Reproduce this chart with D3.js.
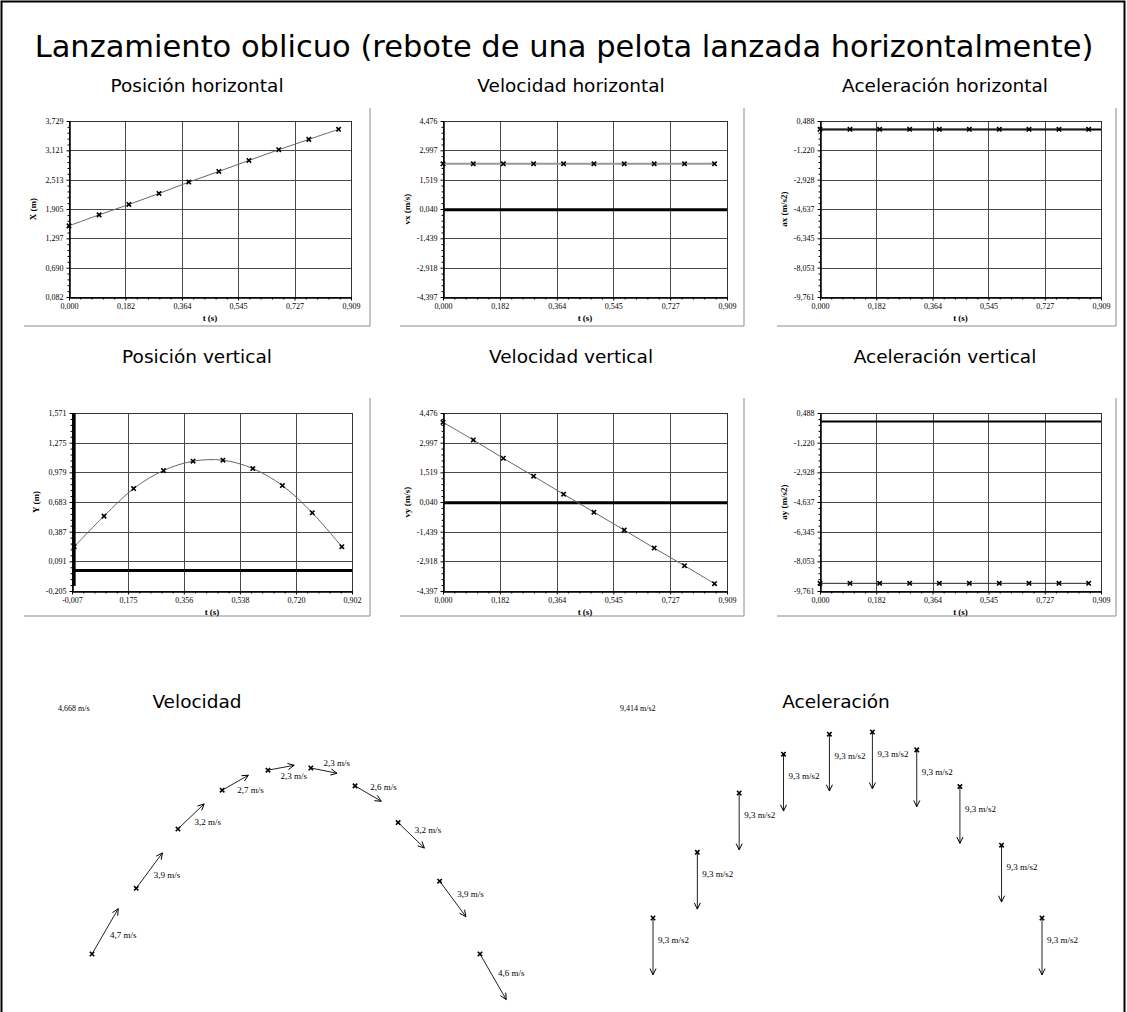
<!DOCTYPE html>
<html>
<head>
<meta charset="utf-8">
<script src="https://cdn.jsdelivr.net/npm/d3@7"></script>
<style>
  body { margin: 0; background: #fff; }
  .ttl { font-family: "DejaVu Sans"; fill: #000; text-anchor: middle; }
  .sm { font-family: "Liberation Serif"; font-size: 8px; fill: #000; }
  .lbl { font-family: "Liberation Serif"; font-size: 9px; font-weight: bold; fill: #000; }
</style>
</head>
<body>
<div id="application"></div>
<script>
// sample times (s)
var times = [0.000, 0.097, 0.193, 0.290, 0.386, 0.483, 0.580, 0.676, 0.773, 0.869];
// measured series
var posX = [1.556, 1.784, 1.999, 2.227, 2.463, 2.684, 2.912, 3.134, 3.348, 3.556];
var posY = [0.237, 0.542, 0.817, 0.997, 1.090, 1.100, 1.017, 0.847, 0.575, 0.237];
var velX = [2.32, 2.32, 2.32, 2.32, 2.32, 2.32, 2.32, 2.32, 2.32, 2.32];
var velY = [4.012, 3.132, 2.220, 1.325, 0.429, -0.466, -1.362, -2.258, -3.137, -4.032];
var accX = [0.002, 0.002, 0.002, 0.002, 0.002, 0.002, 0.002, 0.002, 0.002, 0.002];
var accY = [-9.32, -9.32, -9.32, -9.32, -9.32, -9.32, -9.32, -9.32, -9.32, -9.32];
// labels printed next to the vectors
var speedLabels = [4.7, 3.9, 3.2, 2.7, 2.3, 2.3, 2.6, 3.2, 3.9, 4.6];
var accLabels = [9.3, 9.3, 9.3, 9.3, 9.3, 9.3, 9.3, 9.3, 9.3, 9.3];
// tick labels
var tTicks = [0.000, 0.182, 0.364, 0.545, 0.727, 0.909];
var tTicksPosY = [-0.007, 0.175, 0.356, 0.538, 0.720, 0.902];
var posXTicks = [0.082, 0.690, 1.297, 1.905, 2.513, 3.121, 3.729];
var posYTicks = [-0.205, 0.091, 0.387, 0.683, 0.979, 1.275, 1.571];
var velTicks = [-4.397, -2.918, -1.439, 0.040, 1.519, 2.997, 4.476];
var accTicks = [-9.761, -8.053, -6.345, -4.637, -2.928, -1.220, 0.488];

var width = 1127, height = 1012;

var svg = d3.select("#application").append("svg")
  .attr("width", width)
  .attr("height", height);

function fmt(d) { return d.toFixed(3).replace(".", ","); }
function fmt1(d) { return d.toFixed(1).replace(".", ","); }

// outer frame
svg.append("rect")
  .attr("x", 1.5).attr("y", 1.5)
  .attr("width", 1123).attr("height", 1030)
  .attr("fill", "none").attr("stroke", "#000").attr("stroke-width", 2);

svg.append("text").attr("class", "ttl")
  .attr("x", 564).attr("y", 57)
  .style("font-size", "30.5px")
  .text("Lanzamiento oblicuo (rebote de una pelota lanzada horizontalmente)");

var cols = [
  { frameL: 24, frameR: 370, left: 69, right: 351, cx: 197 },
  { frameL: 400, frameR: 744, left: 443, right: 727, cx: 571 },
  { frameL: 777, frameR: 1116, left: 820, right: 1101, cx: 945 }
];
var rows = [
  { frameT: 108, frameB: 326, top: 121, bottom: 297, titleY: 92 },
  { frameT: 398, frameB: 616, top: 413, bottom: 591, titleY: 363 }
];

var charts = [
  { col: 0, row: 0, title: "Posición horizontal", ylab: "X (m)", xt: tTicks, yt: posXTicks, ys: posX, kind: "curve" },
  { col: 1, row: 0, title: "Velocidad horizontal", ylab: "vx (m/s)", xt: tTicks, yt: velTicks, ys: velX, kind: "flat", zeroY: 3 },
  { col: 2, row: 0, title: "Aceleración horizontal", ylab: "ax (m/s2)", xt: tTicks, yt: accTicks, ys: accX, kind: "flatDark", zeroY: 2 },
  { col: 0, row: 1, title: "Posición vertical", ylab: "Y (m)", xt: tTicksPosY, yt: posYTicks, ys: posY, kind: "curve", zeroY: 3, zeroX: true, leftShift: 3 },
  { col: 1, row: 1, title: "Velocidad vertical", ylab: "vy (m/s)", xt: tTicks, yt: velTicks, ys: velY, kind: "curve", zeroY: 3 },
  { col: 2, row: 1, title: "Aceleración vertical", ylab: "ay (m/s2)", xt: tTicks, yt: accTicks, ys: accY, kind: "flatDark", zeroY: 2 }
];

function minorValues(ticks) {
  var out = [];
  for (var i = 0; i < ticks.length - 1; i++) {
    var step = (ticks[i + 1] - ticks[i]) / 5;
    for (var j = 1; j < 5; j++) out.push(ticks[i] + j * step);
  }
  return out;
}

function crossPath(g, pts) {
  g.selectAll(".mk").data(pts).enter().append("path")
    .attr("class", "mk")
    .attr("d", function(d) {
      return "M" + (d[0] - 2.2) + "," + (d[1] - 2.2) + "L" + (d[0] + 2.2) + "," + (d[1] + 2.2) +
        "M" + (d[0] - 2.2) + "," + (d[1] + 2.2) + "L" + (d[0] + 2.2) + "," + (d[1] - 2.2);
    })
    .attr("stroke", "#000").attr("stroke-width", 1.6).attr("fill", "none");
}

charts.forEach(function(c) {
  var col = cols[c.col], row = rows[c.row];
  var left = col.left + (c.leftShift || 0), right = col.right + (c.row === 1 && c.col === 0 ? 1 : 0);
  var g = svg.append("g");

  // panel frame (right + bottom, gray)
  g.append("path")
    .attr("d", "M" + col.frameR + "," + row.frameT + "V" + row.frameB + "H" + col.frameL)
    .attr("fill", "none").attr("stroke", "#8a8a8a").attr("stroke-width", 1);

  g.append("text").attr("class", "ttl")
    .attr("x", col.cx).attr("y", row.titleY)
    .style("font-size", "18.5px")
    .text(c.title);

  var x = d3.scaleLinear().domain([c.xt[0], c.xt[c.xt.length - 1]]).range([left, right]);
  var y = d3.scaleLinear().domain([c.yt[0], c.yt[c.yt.length - 1]]).range([row.bottom, row.top]);

  // grid
  g.append("g").selectAll("line").data(c.yt.slice(1, -1)).enter().append("line")
    .attr("x1", left).attr("x2", right)
    .attr("y1", function(d) { return Math.round(y(d)) + 0.5; })
    .attr("y2", function(d) { return Math.round(y(d)) + 0.5; })
    .attr("stroke", "#4a4a4a").attr("stroke-width", 1);
  g.append("g").selectAll("line").data(c.xt.slice(1, -1)).enter().append("line")
    .attr("y1", row.top).attr("y2", row.bottom)
    .attr("x1", function(d) { return Math.round(x(d)) + 0.5; })
    .attr("x2", function(d) { return Math.round(x(d)) + 0.5; })
    .attr("stroke", "#4a4a4a").attr("stroke-width", 1);

  // plot box
  g.append("rect")
    .attr("x", left + 0.5).attr("y", row.top + 0.5)
    .attr("width", right - left).attr("height", row.bottom - row.top)
    .attr("fill", "none").attr("stroke", "#333").attr("stroke-width", 1);

  // axes
  var ya = g.append("g").attr("transform", "translate(" + (left + 0.5) + ",0)")
    .call(d3.axisLeft(y).tickValues(c.yt).tickFormat(fmt).tickSize(3).tickSizeOuter(0).tickPadding(3));
  var ym = g.append("g").attr("transform", "translate(" + (left + 0.5) + ",0)")
    .call(d3.axisLeft(y).tickValues(minorValues(c.yt)).tickFormat("").tickSize(2).tickSizeOuter(0));
  var xa = g.append("g").attr("transform", "translate(0," + (row.bottom + 0.5) + ")")
    .call(d3.axisBottom(x).tickValues(c.xt).tickFormat(fmt).tickSize(3).tickSizeOuter(0).tickPadding(3));
  var xm = g.append("g").attr("transform", "translate(0," + (row.bottom + 0.5) + ")")
    .call(d3.axisBottom(x).tickValues(minorValues(c.xt)).tickFormat("").tickSize(2).tickSizeOuter(0));
  [ya, ym, xa, xm].forEach(function(a) {
    a.selectAll("text").attr("class", "sm").attr("font-family", null).attr("font-size", null);
    a.selectAll("line").attr("stroke", "#000");
    a.select(".domain").attr("stroke", "#000");
  });

  // axis titles
  g.append("text").attr("class", "lbl")
    .attr("transform", "translate(" + (left - 33) + "," + ((row.top + row.bottom) / 2) + ") rotate(-90)")
    .attr("text-anchor", "middle")
    .text(c.ylab);
  g.append("text").attr("class", "lbl")
    .attr("x", (left + right) / 2).attr("y", row.bottom + 24)
    .attr("text-anchor", "middle")
    .text("t (s)");

  // zero lines
  if (c.zeroY) {
    g.append("line")
      .attr("x1", left).attr("x2", right)
      .attr("y1", y(0)).attr("y2", y(0))
      .attr("stroke", "#000").attr("stroke-width", c.zeroY);
  }
  if (c.zeroX) {
    g.append("line")
      .attr("x1", x(0)).attr("x2", x(0))
      .attr("y1", row.top).attr("y2", row.bottom - 5)
      .attr("stroke", "#000").attr("stroke-width", 3);
  }

  var pts = times.map(function(t, i) { return [x(t), y(c.ys[i])]; });
  var line = d3.line();
  if (c.kind === "curve") line.curve(d3.curveCatmullRom);
  g.append("path").attr("d", line(pts))
    .attr("fill", "none")
    .attr("stroke", c.kind === "flat" ? "#999" : (c.kind === "flatDark" ? "#222" : "#666"))
    .attr("stroke-width", c.kind === "flat" ? 2 : 1);
  crossPath(g, pts);
});

// ---- vector diagrams ----
function arrowHead(g, x0, y0, x1, y1) {
  var a = Math.atan2(y1 - y0, x1 - x0), L = 7, s = 0.45;
  g.append("path")
    .attr("d", "M" + (x1 - L * Math.cos(a - s)) + "," + (y1 - L * Math.sin(a - s)) +
      "L" + x1 + "," + y1 +
      "L" + (x1 - L * Math.cos(a + s)) + "," + (y1 - L * Math.sin(a + s)))
    .attr("fill", "none").attr("stroke", "#000").attr("stroke-width", 1);
}

// Velocidad
svg.append("text").attr("class", "ttl").attr("x", 197).attr("y", 708).style("font-size", "18.5px").text("Velocidad");
svg.append("text").attr("class", "sm").attr("x", 58).attr("y", 711).text("4,668 m/s");

var vx = d3.scaleLinear().domain([1.556, 3.556]).range([92, 480]);
var vy = d3.scaleLinear().domain([0.237, 1.100]).range([954, 768]);
var vk = d3.scaleLinear().domain([0, 1]).range([0, 11.3]);
var gv = svg.append("g");
var vpts = posX.map(function(px, i) { return [vx(px), vy(posY[i])]; });
vpts.forEach(function(p, i) {
  var x1 = p[0] + vk(velX[i]), y1 = p[1] - vk(velY[i]);
  gv.append("line").attr("x1", p[0]).attr("y1", p[1]).attr("x2", x1).attr("y2", y1)
    .attr("stroke", "#222").attr("stroke-width", 1);
  arrowHead(gv, p[0], p[1], x1, y1);
  var dx = x1 - p[0], dy = y1 - p[1], len = Math.sqrt(dx * dx + dy * dy);
  var px = -dy / len, py = dx / len;
  if (px < 0) { px = -px; py = -py; }
  gv.append("text").attr("class", "sm").style("font-size", "9px")
    .attr("x", (p[0] + x1) / 2 + 8 * px - 2)
    .attr("y", (p[1] + y1) / 2 + 8 * py + 3)
    .text(fmt1(speedLabels[i]) + " m/s");
});
crossPath(gv, vpts);

// Aceleración
svg.append("text").attr("class", "ttl").attr("x", 836).attr("y", 708).style("font-size", "18.5px").text("Aceleración");
svg.append("text").attr("class", "sm").attr("x", 620).attr("y", 711).text("9,414 m/s2");

var ax = d3.scaleLinear().domain([1.556, 3.556]).range([653, 1042]);
var ay = d3.scaleLinear().domain([0.237, 1.100]).range([918, 732]);
var ak = d3.scaleLinear().domain([0, 1]).range([0, 6.1]);
var ga = svg.append("g");
var apts = posX.map(function(px, i) { return [ax(px), ay(posY[i])]; });
apts.forEach(function(p, i) {
  var x1 = p[0] + ak(accX[i]), y1 = p[1] - ak(accY[i]);
  ga.append("line").attr("x1", p[0]).attr("y1", p[1]).attr("x2", x1).attr("y2", y1)
    .attr("stroke", "#222").attr("stroke-width", 1);
  arrowHead(ga, p[0], p[1], x1, y1);
  ga.append("text").attr("class", "sm").style("font-size", "9px")
    .attr("x", p[0] + 5).attr("y", p[1] + 25)
    .text(fmt1(accLabels[i]) + " m/s2");
});
crossPath(ga, apts);
</script>
</body>
</html>
